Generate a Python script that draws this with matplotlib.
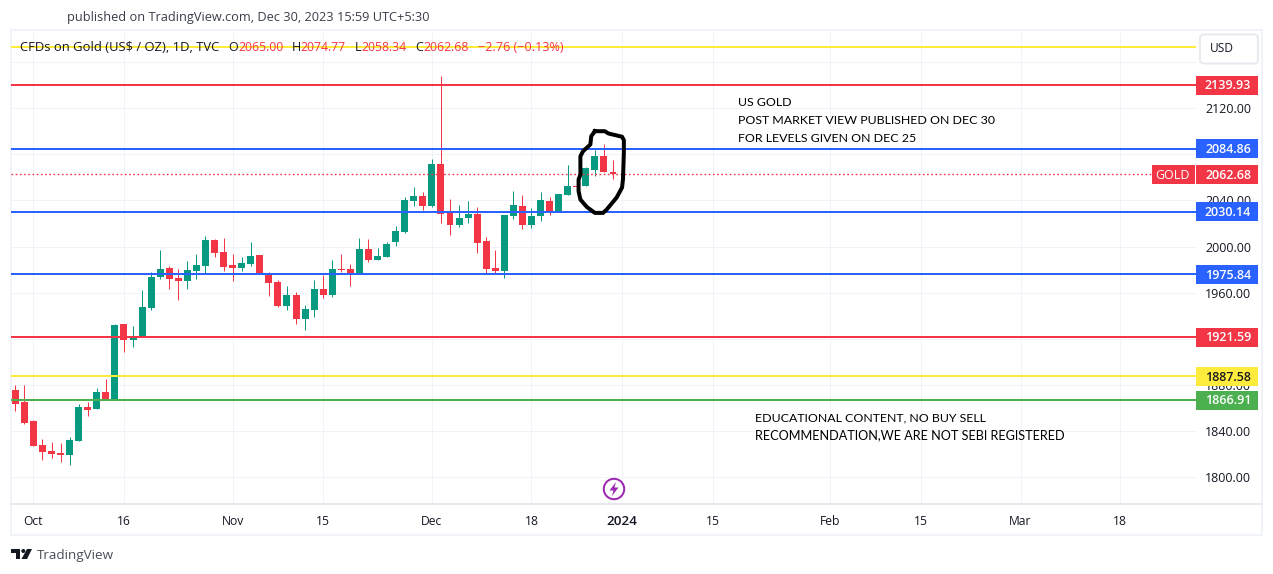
import matplotlib
matplotlib.use("Agg")
from matplotlib import pyplot as plt
from matplotlib.patches import Rectangle, FancyBboxPatch, Circle, Polygon

plt.rcParams['font.family'] = ['Open Sans', 'DejaVu Sans']

# daily candles, Oct 2 2023 -> Dec 29 2023 (bar index on the x axis)
opens = [1875.9, 1865.5, 1849.0, 1828.2, 1823.0, 1821.2, 1819.5, 1831.6, 1861.1, 1859.4,
         1874.2, 1868.1, 1933.2, 1919.3, 1921.9, 1947.0, 1973.9, 1981.8, 1973.1, 1970.5,
         1979.2, 1983.5, 2006.1, 1995.6, 1984.4, 1981.8, 1985.2, 1993.0, 1977.4, 1969.6,
         1948.8, 1958.3, 1937.5, 1945.3, 1963.5, 1958.3, 1980.9, 1980.9, 1976.5, 1998.2,
         1988.7, 1991.3, 2004.3, 2013.0, 2039.9, 2044.2, 2035.6, 2072.0, 2029.5, 2019.1,
         2025.1, 2028.6, 2005.2, 1981.8, 1979.2, 2026.9, 2035.6, 2019.1, 2026.9, 2039.9,
         2031.2, 2045.1, 2052.9, 2052.9, 2066.8, 2078.1, 2065.0]
highs = [1880.2, 1880.2, 1849.9, 1833.4, 1830.8, 1829.9, 1835.1, 1863.7, 1865.5, 1877.6,
         1885.4, 1933.2, 1933.2, 1931.4, 1962.7, 1978.3, 1997.4, 1983.5, 1980.9, 1987.8,
         1993.9, 2009.5, 2006.9, 2007.8, 1993.9, 1991.3, 2004.3, 1993.0, 1978.3, 1971.3,
         1966.1, 1960.9, 1949.7, 1971.3, 1975.7, 1988.7, 1993.9, 1985.2, 2007.8, 2006.9,
         1999.1, 2004.3, 2018.2, 2043.4, 2052.0, 2047.7, 2075.5, 2147.5, 2041.6, 2036.4,
         2039.9, 2034.7, 2008.7, 1997.4, 2027.7, 2048.6, 2045.1, 2033.8, 2047.7, 2043.4,
         2046.0, 2071.1, 2052.9, 2069.4, 2084.1, 2088.5, 2074.77]
lows = [1857.7, 1846.7, 1827.3, 1815.2, 1816.9, 1813.4, 1810.8, 1831.6, 1853.3, 1859.4,
        1868.1, 1868.1, 1908.9, 1913.2, 1921.9, 1945.3, 1972.2, 1963.5, 1954.0, 1963.5,
        1972.2, 1977.4, 1991.3, 1979.2, 1970.5, 1979.2, 1983.5, 1976.5, 1957.5, 1947.9,
        1945.3, 1933.2, 1927.9, 1939.2, 1955.7, 1956.6, 1978.3, 1966.1, 1976.5, 1987.0,
        1988.7, 1991.3, 2000.8, 2012.1, 2035.6, 2032.1, 2034.7, 2020.8, 2010.4, 2017.3,
        2020.8, 1994.8, 1976.5, 1977.4, 1973.1, 2024.3, 2015.6, 2016.5, 2022.5, 2027.7,
        2031.2, 2045.1, 2052.0, 2052.9, 2061.6, 2065.0, 2058.34]
closes = [1864.0, 1847.3, 1827.3, 1822.1, 1820.4, 1819.5, 1832.5, 1861.1, 1858.5, 1874.2,
          1868.1, 1932.3, 1919.3, 1922.7, 1947.9, 1973.9, 1980.9, 1972.2, 1970.5, 1980.0,
          1984.4, 2006.1, 1994.8, 1982.6, 1981.8, 1986.1, 1992.2, 1976.5, 1968.7, 1948.8,
          1958.3, 1937.5, 1946.2, 1963.5, 1958.3, 1980.9, 1980.0, 1976.5, 1998.2, 1988.7,
          1992.2, 2002.6, 2013.9, 2040.8, 2044.2, 2035.6, 2072.0, 2028.6, 2019.1, 2025.1,
          2028.6, 2003.4, 1980.9, 1979.2, 2027.7, 2036.4, 2019.1, 2026.9, 2040.8, 2031.2,
          2046.0, 2052.9, 2052.0, 2068.5, 2078.1, 2065.0, 2062.68]

# horizontal levels, the top yellow one has no label on the scale
levels = [2173.1, 2139.93, 2084.86, 2030.14, 1975.84, 1921.59, 1887.58, 1866.91]
level_colors = ['#FFEB3B', '#F23645', '#2962FF', '#2962FF', '#2962FF', '#F23645', '#FFEB3B', '#4CAF50']
level_text = ['', '#fff', '#fff', '#fff', '#fff', '#fff', '#131722', '#fff']
last_price = 2062.68

# 2160, 2080 and 1920 sit fully behind the USD button and the level boxes
price_ticks = [2160, 2120, 2080, 2040, 2000, 1960, 1920, 1880, 1840, 1800]
price_labels = ['', '2120.00', '', '2040.00', '2000.00', '1960.00', '', '1880.00', '1840.00', '1800.00']
time_ticks = [2, 12, 24, 34, 46, 57, 67, 77, 90, 100, 111, 122]
time_labels = ['Oct', '16', 'Nov', '15', 'Dec', '18', '2024', '15', 'Feb', '15', 'Mar', '18']

# the hand drawn loop around the last candles
loop_bars = [64.0, 65.1, 65.5, 67.0, 67.2, 67.2, 67.1, 67.0, 66.4, 65.3, 64.9,
             64.0, 63.1, 62.4, 62.2, 62.2, 62.4, 62.4, 62.7, 63.5, 63.6, 64.0]
loop_prices = [2100.0, 2100.0, 2098.0, 2095.2, 2092.2, 2081.6, 2058.1, 2051.2, 2042.5, 2032.1, 2029.2,
               2029.2, 2034.4, 2040.8, 2048.0, 2058.1, 2062.4, 2078.3, 2082.7, 2088.5, 2095.7, 2100.0]

W, H = 1273, 574
UP = '#089981'
DOWN = '#F23645'
INK = '#131722'
GRID = '#F0F3FA'
px = 0.72  # one pixel in points at dpi 100
PX_PER_USD = 1.154


def axes_at(x0, y0, x1, y1):
    return fig.add_axes([x0 / W, 1 - y1 / H, (x1 - x0) / W, (y1 - y0) / H])


fig = plt.figure(figsize=(W / 100, H / 100), dpi=100, facecolor='white')

# frame behind everything
back = axes_at(0, 0, W, H)
back.set_xlim(0, W)
back.set_ylim(H, 0)
back.axis('off')
back.add_patch(Rectangle((10.5, 30), 1251.5, 505, fill=False, ec=GRID, lw=2 * px))

ax = axes_at(11, 31, 1196, 504)
ax.patch.set_alpha(0)
ax.set_xlim((11 - 15.3) / 9.056, (1196 - 15.3) / 9.056)
ax.set_ylim(1800 + (477.4 - 504) / PX_PER_USD, 1800 + (477.4 - 31) / PX_PER_USD)

for name in ['top', 'left', 'right']:
    ax.spines[name].set_visible(False)
ax.spines['bottom'].set_color('#E0E3EB')
ax.spines['bottom'].set_linewidth(1.5 * px)

ax.yaxis.tick_right()
ax.set_yticks(price_ticks, price_labels)
ax.set_xticks(time_ticks, time_labels)
ax.tick_params(axis='y', length=0, pad=6.5, labelsize=9, labelcolor=INK)
ax.tick_params(axis='x', length=0, pad=8, labelsize=8.7, labelcolor=INK)
ax.grid(True, color=GRID, lw=px, zorder=0)
ax.set_axisbelow(True)
for t in ax.get_xticklabels():
    if t.get_text() == '2024':
        t.set_fontweight('semibold')
        t.set_fontsize(9.6)

bars = list(range(len(opens)))
colors = [UP if c >= o else DOWN for o, c in zip(opens, closes)]
ax.vlines(bars, lows, highs, colors=colors, lw=px, zorder=2)
ax.bar(bars, [abs(c - o) for o, c in zip(opens, closes)], bottom=[min(o, c) for o, c in zip(opens, closes)],
       width=0.77, color=colors, lw=0, zorder=3)

for level, col in zip(levels, level_colors):
    ax.axhline(level, color=col, lw=2 * px, zorder=4)
ax.axhline(last_price, color=DOWN, lw=1.4 * px, ls=(0, (1.2, 1.8)), zorder=4)

ax.plot(loop_bars, loop_prices, color='black', lw=4 * px, zorder=6, solid_joinstyle='round')

# price scale labels, same y scale as the chart
scale = axes_at(1196, 31, 1263, 504)
scale.patch.set_alpha(0)
scale.axis('off')
scale.set_xlim(1196, 1263)
scale.set_ylim(ax.get_ylim())
box_h = 19 / PX_PER_USD
nudge = 0.8 / PX_PER_USD
for level, col, tc in zip(levels, level_colors, level_text):
    if tc == '':
        continue
    scale.add_patch(Rectangle((1196, level - box_h / 2), 62, box_h, fc=col, ec='none'))
    scale.text(1228, level - nudge, '%.2f' % level, color=tc, ha='center', va='center', fontsize=9, fontweight='semibold')
scale.add_patch(Rectangle((1196, last_price - box_h / 2), 62, box_h, fc=DOWN, ec='none'))
scale.text(1228, last_price - nudge, '%.2f' % last_price, color='white', ha='center', va='center', fontsize=9, fontweight='semibold')
scale.add_patch(Rectangle((1152, last_price - box_h / 2), 43, box_h, fc=DOWN, ec='none', clip_on=False))
scale.text(1173, last_price - nudge, 'GOLD', color='white', ha='center', va='center', fontsize=9, clip_on=False)

# everything else is placed in pixels
top = axes_at(0, 0, W, H)
top.patch.set_alpha(0)
top.set_xlim(0, W)
top.set_ylim(H, 0)
top.axis('off')

top.plot([1197, 1262], [504, 504], color='#E0E3EB', lw=1.5 * px)

top.text(67, 17, 'published on TradingView.com, Dec 30, 2023 15:59 UTC+5:30', color='#3a3e4a', fontsize=9.2, va='center')

top.text(20, 47.5, 'CFDs on Gold (US$ / OZ), 1D, TVC', color=INK, fontsize=9.4, va='center')
for x, s, col, size in [(228.5, 'O', INK, 9), (238, '2065.00', DOWN, 8.8), (291.5, 'H', INK, 9), (300.5, '2074.77', DOWN, 8.8),
                        (355, 'L', INK, 9), (361.5, '2058.34', DOWN, 8.8), (415.5, 'C', INK, 9), (423.5, '2062.68', DOWN, 8.8),
                        (478, '\u22122.76 (\u22120.13%)', DOWN, 9.1)]:
    top.text(x, 47.5, s, color=col, fontsize=size, va='center')

top.add_patch(FancyBboxPatch((1202, 36.5), 54, 25, boxstyle='round,pad=2,rounding_size=4', fc='white', ec='#E8EAF0', lw=2 * px))
top.text(1222, 49, 'USD', color=INK, fontsize=8.6, ha='center', va='center')

for y, s, size in [(102.5, 'US GOLD', 8.9), (120.5, 'POST MARKET VIEW PUBLISHED ON DEC 30', 8.9), (138.5, 'FOR LEVELS GIVEN ON DEC 25', 8.9)]:
    top.text(738, y, s, color='black', fontsize=size, family='Lato', va='center')
for y, s, size in [(417.5, 'EDUCATIONAL CONTENT, NO BUY SELL', 8.95), (435.5, 'RECOMMENDATION,WE ARE NOT SEBI REGISTERED', 9.05)]:
    top.text(755, y, s, color='black', fontsize=size, family='Lato', va='center')

# lightning badge under the last candles
top.add_patch(Circle((614, 489), 10.2, fc='white', ec='#9C27B0', lw=2 * px))
top.add_patch(Polygon([(616, 482), (609.5, 490.5), (613.5, 490.5), (612, 496), (618.5, 487.5), (614.5, 487.5)], fc='#9C27B0', ec='none'))

# logo and footer
top.add_patch(Polygon([(11, 549), (20, 549), (20, 559), (15.5, 559), (15.5, 553), (11, 553)], fc='#131722', ec='none'))
top.add_patch(Circle((23.3, 551), 2, fc='#131722', ec='none'))
top.add_patch(Polygon([(27, 549), (32, 549), (27, 559), (21.5, 559)], fc='#131722', ec='none'))
top.text(37, 555.5, 'TradingView', color='#4a4e5a', fontsize=9.7, va='center')

fig.savefig('out.png', dpi=100)
